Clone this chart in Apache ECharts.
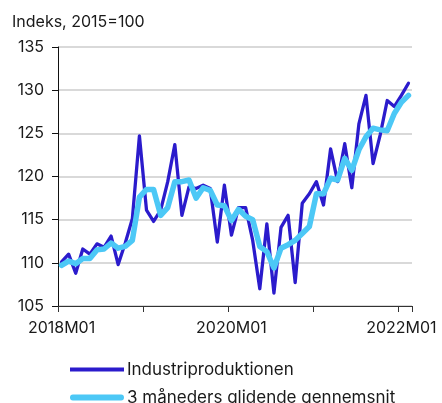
<!DOCTYPE html>
<html>
<head>
<meta charset="utf-8">
<script src="https://cdn.jsdelivr.net/npm/echarts@6/dist/echarts.min.js"></script>
<style>
html,body{margin:0;padding:0;background:#fff;}
#chart{width:442px;height:403px;}
</style>
</head>
<body>
<div id="chart"></div>
<script>
// Months 2018M01 .. 2022M02
var months = [];
for (var y = 2018; y <= 2022; y++) {
  for (var m = 1; m <= 12; m++) {
    if (y === 2022 && m > 2) break;
    months.push(y + 'M' + (m < 10 ? '0' + m : m));
  }
}
var seriesNames = ['Industriproduktionen', '3 måneders glidende gennemsnit'];
var industri = [
  110.1, 111.0, 108.8, 111.6, 111.0, 112.2, 111.8, 113.1, 109.8, 112.3, 115.1,
  124.7, 116.1, 114.8, 116.1, 119.4, 123.7, 115.5, 118.8, 118.6, 119.0, 118.6, 112.4, 119.0,
  113.2, 116.4, 116.4, 112.6, 107.0, 114.5, 106.5, 114.1, 115.5, 107.7, 116.9, 118.0,
  119.4, 116.7, 123.2, 119.4, 123.8, 118.7, 126.1, 129.4, 121.5, 124.8, 128.8, 128.1,
  129.4, 130.8
];
var glidende = [
  109.7, 110.2, 109.9, 110.5, 110.5, 111.5, 111.6, 112.3, 111.7, 111.9, 112.6,
  117.6, 118.5, 118.5, 115.5, 116.4, 119.4, 119.4, 119.6, 117.5, 118.7, 118.4, 116.7, 116.6,
  114.9, 116.2, 115.4, 115.0, 111.9, 111.3, 109.4, 111.7, 112.1, 112.6, 113.4, 114.2,
  118.0, 118.0, 119.8, 119.6, 122.1, 120.7, 123.1, 124.6, 125.6, 125.4, 125.3, 127.3,
  128.6, 129.4
];
var yTicks = {min: 105, max: 135, interval: 5};
var unitLabel = 'Indeks, 2015=100';

var font = 'Inter, "Liberation Sans", sans-serif';
var txt = '#1a1a1a';
var chart = echarts.init(document.getElementById('chart'), null, {renderer: 'canvas'});
chart.setOption({
  animation: false,
  backgroundColor: '#ffffff',
  textStyle: {fontFamily: font},
  title: {
    text: unitLabel,
    left: 7, top: 9,
    textStyle: {fontFamily: font, fontSize: 16, fontWeight: 'normal', color: txt}
  },
  grid: {left: 58, right: 30, top: 47, bottom: 97, containLabel: false},
  legend: {
    orient: 'vertical',
    left: 70, top: 361, height: 80,
    padding: 0,
    itemWidth: 54, itemHeight: 16, itemGap: 11,
    textStyle: {fontFamily: font, fontSize: 17, lineHeight: 16, color: txt, padding: [0, 0, 0, -2]},
    data: [
      {name: seriesNames[0], icon: 'path://M0,0 L54,0 L54,4 L0,4 Z', itemStyle: {color: '#2b1bcc'}},
      {name: seriesNames[1], icon: 'path://M2,0 L52,0 A3,3 0 0 1 52,6 L2,6 A3,3 0 0 1 2,0 Z', itemStyle: {color: '#4cc8f6'}}
    ]
  },
  xAxis: {
    type: 'category',
    data: months,
    boundaryGap: true,
    axisLine: {lineStyle: {color: '#333', width: 1}},
    axisTick: {show: true, interval: 11, length: 6, inside: false, lineStyle: {color: '#333'}},
    axisLabel: {interval: 23, margin: 14, fontFamily: font, fontSize: 16, color: txt},
    splitLine: {show: false}
  },
  yAxis: {
    type: 'value',
    min: yTicks.min, max: yTicks.max, interval: yTicks.interval,
    axisLine: {show: true, lineStyle: {color: '#111', width: 1}},
    axisTick: {show: true, length: 6, inside: false, lineStyle: {color: '#111'}},
    axisLabel: {margin: 14, fontFamily: font, fontSize: 16, color: txt},
    splitLine: {show: true, lineStyle: {color: '#d9d9d9', width: 2}}
  },
  series: [
    {
      name: seriesNames[0], type: 'line', data: industri,
      symbol: 'none', smooth: false,
      lineStyle: {color: '#2b1bcc', width: 3.3, join: 'round', cap: 'round'},
      itemStyle: {color: '#2b1bcc'}
    },
    {
      name: seriesNames[1], type: 'line', data: glidende,
      symbol: 'none', smooth: false,
      lineStyle: {color: '#4cc8f6', width: 5.5, join: 'round', cap: 'round'},
      itemStyle: {color: '#4cc8f6'}
    }
  ]
});
</script>
</body>
</html>
